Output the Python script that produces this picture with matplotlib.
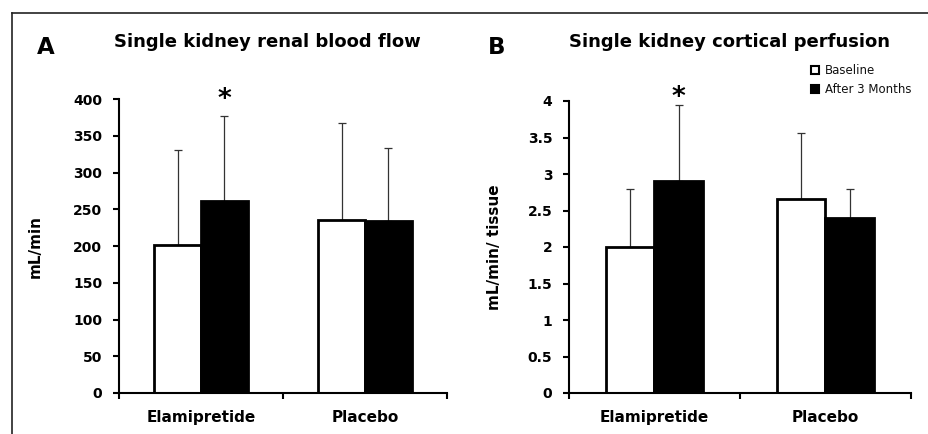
import matplotlib
matplotlib.use("Agg")
import matplotlib.pyplot as plt
from matplotlib.lines import Line2D
from matplotlib.patches import Patch
import numpy as np

plt.rcParams['font.family'] = ['DejaVu Sans']

categories = ["Elamipretide", "Placebo"]
series_names = ["Baseline", "After 3 Months"]

rbf_baseline = [202, 235]
rbf_after = [261, 234]
rbf_baseline_err = [129, 133]
rbf_after_err = [116, 100]

cp_baseline = [2.00, 2.66]
cp_after = [2.90, 2.40]
cp_baseline_err = [0.79, 0.90]
cp_after_err = [1.05, 0.39]

rbf_ticks = [0, 50, 100, 150, 200, 250, 300, 350, 400]
cp_ticks = [0, 0.5, 1, 1.5, 2, 2.5, 3, 3.5, 4]
cp_ticklabels = ["0", "0.5", "1", "1.5", "2", "2.5", "3", "3.5", "4"]

W, H = 929, 434
fig = plt.figure(figsize=(W / 100, H / 100), dpi=100)

def px_axes(l, r, t, b):
    return fig.add_axes([l / W, 1 - b / H, (r - l) / W, (b - t) / H])

axA = px_axes(119, 447, 99, 393)
axB = px_axes(569, 911, 101, 393)

bw = 0.285

def draw(ax, base, after, berr, aerr, ymax, ticks, ticklabels, ylabel):
    x = np.arange(len(categories))
    ax.bar(x - bw / 2, base, bw, color="white", edgecolor="black", linewidth=2.0, zorder=2)
    ax.bar(x + bw / 2, after, bw, color="black", edgecolor="black", linewidth=2.0, zorder=2)
    ax.errorbar(x - bw / 2, base, yerr=[np.zeros(len(base)), berr], fmt="none",
                ecolor="#333333", elinewidth=0.9, capsize=3, capthick=0.9, zorder=1)
    ax.errorbar(x + bw / 2, after, yerr=[np.zeros(len(after)), aerr], fmt="none",
                ecolor="#333333", elinewidth=0.9, capsize=3, capthick=0.9, zorder=1)
    ax.set_xlim(-0.5, 1.5)
    ax.set_ylim(0, ymax)
    ax.set_yticks(ticks)
    ax.set_yticklabels(ticklabels, fontsize=10, fontweight="bold")
    ax.set_xticks([-0.5, 0.5, 1.5])
    ax.set_xticklabels([])
    ax.set_xticks(x, minor=True)
    ax.set_xticklabels(categories, minor=True, fontsize=11, fontweight="bold")
    ax.tick_params(axis="x", which="minor", length=0, pad=12)
    ax.tick_params(axis="x", which="major", length=4, width=1.5, direction="out")
    ax.tick_params(axis="y", length=4, width=1.5, direction="out", pad=8)
    for s in ["top", "right"]:
        ax.spines[s].set_visible(False)
    for s in ["left", "bottom"]:
        ax.spines[s].set_linewidth(1.5)
    ax.set_ylabel(ylabel, fontsize=11, fontweight="bold")

draw(axA, rbf_baseline, rbf_after, rbf_baseline_err, rbf_after_err, 400,
     rbf_ticks, [str(t) for t in rbf_ticks], "mL/min")
draw(axB, cp_baseline, cp_after, cp_baseline_err, cp_after_err, 4,
     cp_ticks, cp_ticklabels, "mL/min/ tissue")

axA.yaxis.set_label_coords(-0.232, 0.5)
axB.yaxis.set_label_coords(-0.196, 0.5)

# asterisks
axA.text(0 + bw / 2, 399, "*", ha="center", va="center", fontsize=19, fontweight="bold")
axB.text(0 + bw / 2, 4.04, "*", ha="center", va="center", fontsize=19, fontweight="bold")

# titles and panel letters
fig.text(267 / W, 1 - 42 / H, "Single kidney renal blood flow", ha="center", va="center",
         fontsize=13, fontweight="bold")
fig.text(730 / W, 1 - 42 / H, "Single kidney cortical perfusion", ha="center", va="center",
         fontsize=13, fontweight="bold")
fig.text(46 / W, 1 - 48 / H, "A", ha="center", va="center", fontsize=16.5, fontweight="bold")
fig.text(497 / W, 1 - 47 / H, "B", ha="center", va="center", fontsize=16.5, fontweight="bold")

# legend
handles = [Patch(facecolor="white", edgecolor="black", linewidth=1.5),
           Patch(facecolor="black", edgecolor="black", linewidth=1.5)]
leg = fig.legend(handles, series_names, loc="upper left",
                 bbox_to_anchor=(811 / W, 1 - 64 / H), frameon=False,
                 fontsize=8.5, handlelength=0.7, handleheight=0.7,
                 handletextpad=0.45, labelspacing=0.53, borderpad=0, borderaxespad=0)
for t in leg.get_texts():
    t.set_color("#111111")

# outer frame (cropped at right and bottom)
fig.add_artist(Line2D([12 / W, 1], [1 - 13 / H, 1 - 13 / H], color="#222222", linewidth=1.2))
fig.add_artist(Line2D([12 / W, 12 / W], [0, 1 - 13 / H], color="#222222", linewidth=1.2))

fig.savefig("out.png", dpi=100)
